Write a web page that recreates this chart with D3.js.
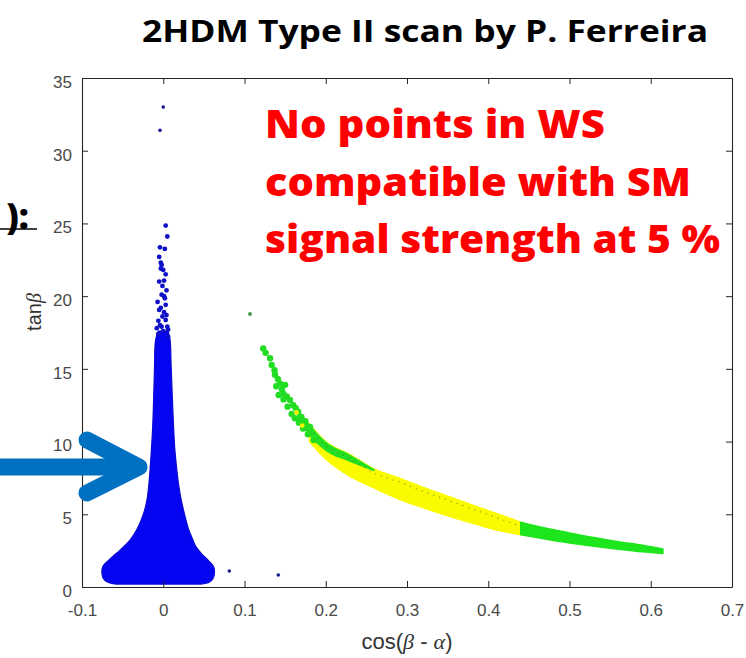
<!DOCTYPE html>
<html><head><meta charset="utf-8">
<script src="https://cdn.jsdelivr.net/npm/d3@7"></script>
<style>body{margin:0;background:#fff}svg{display:block}</style>
</head><body>
<script>
// ---------- data ----------
const xTicks = [-0.1, 0, 0.1, 0.2, 0.3, 0.4, 0.5, 0.6, 0.7];
const xTickLabels = ["-0.1", "0", "0.1", "0.2", "0.3", "0.4", "0.5", "0.6", "0.7"];
const yTicks = [0, 5, 10, 15, 20, 25, 30, 35];
const yTickLabels = ["0", "5", "10", "15", "20", "25", "30", "35"];

// blue (WS-allowed) cloud envelope: tanβ levels with left/right cos(β-α) edges
const blueTan   = [0.2, 0.35, 0.6, 1.0, 1.4, 1.8, 2.3, 2.8, 3.3, 4.0, 5.0, 6.0, 7.0, 8.0, 9.5, 11, 13, 15, 17, 17.6];
const blueLeft  = [-0.058, -0.069, -0.074, -0.0755, -0.0745, -0.068, -0.058, -0.048, -0.040, -0.032, -0.0245, -0.020, -0.0178, -0.0163, -0.0145, -0.013, -0.0118, -0.0108, -0.0094, -0.006];
const blueRight = [0.046, 0.057, 0.0615, 0.0630, 0.0620, 0.056, 0.047, 0.040, 0.036, 0.031, 0.0262, 0.022, 0.019, 0.0168, 0.0142, 0.0127, 0.0112, 0.0098, 0.0084, 0.006];

// individual blue points (cos(β-α), tanβ)
const blueCos = [0.000, -0.004, 0.003, 0.005, -0.004, 0.002, -0.005, -0.002, 0.000, -0.003, -0.005, 0.001, 0.004, -0.002, 0.002, -0.007, -0.003, -0.005, -0.001, 0.003, -0.004, 0.005, 0.000, -0.006, 0.006, 0.001, 0.003, -0.001, 0.003, -0.003, 0.001, -0.006, 0.004, -0.002, 0.006, -0.008, 0.0813, 0.1416];
const blueTanPts = [33.0, 31.4, 24.85, 24.1, 23.36, 23.25, 22.7, 22.15, 21.8, 21.9, 21.0, 21.07, 20.4, 20.1, 19.85, 19.6, 19.2, 19.05, 18.6, 18.36, 18.0, 17.9, 17.6, 17.4, 17.2, 18.9, 19.4, 20.7, 21.5, 22.3, 20.0, 18.3, 18.7, 17.9, 17.7, 17.8, 1.1, 0.83];

// green / yellow band edges
const bandCos   = [0.165, 0.18, 0.20, 0.23, 0.26, 0.29, 0.32, 0.35, 0.38, 0.41, 0.44, 0.47, 0.50, 0.53, 0.56, 0.59, 0.615];
const bandUpper = [12.3, 11.2, 10.0, 9.1, 8.1, 7.5, 6.85, 6.25, 5.65, 5.05, 4.45, 4.05, 3.72, 3.4, 3.12, 2.87, 2.62];
const bandLower = [11.3, 10.0, 8.8, 7.6, 6.8, 6.05, 5.45, 4.9, 4.4, 3.92, 3.6, 3.3, 3.03, 2.8, 2.6, 2.42, 2.3];
const yellowFrom = 0.18, yellowTo = 0.435;

// green strip along the top of the band's left part
const gStripCos   = [0.165, 0.18, 0.20, 0.23, 0.26];
const gStripUpper = [12.3, 11.2, 10.0, 9.1, 8.1];
const gStripLower = [11.5, 10.4, 9.35, 8.6, 7.95];

// sparse green points at the top end of the band
const greenCos = [0.1068, 0.1231, 0.126, 0.1314, 0.1335, 0.137, 0.1375, 0.141, 0.1437, 0.146, 0.1478, 0.150, 0.152, 0.156, 0.160, 0.163, 0.166, 0.170, 0.175, 0.1806,
                  0.139, 0.142, 0.148, 0.153, 0.158, 0.162, 0.167, 0.172, 0.178, 0.185];
const greenTan = [18.78, 16.4, 16.1, 15.73, 15.27, 14.9, 14.6, 14.3, 14.0, 13.6, 13.3, 13.9, 13.1, 12.86, 12.5, 12.3, 12.06, 11.7, 11.4, 11.0,
                  13.8, 13.2, 12.9, 12.4, 11.9, 11.6, 11.3, 10.9, 10.5, 10.1];
const yellowDotCos = [0.164, 0.171];
const yellowDotTan = [12.0, 11.1];

// ---------- drawing ----------
const W = 746, H = 658;
const svg = d3.select("body").append("svg").attr("width", W).attr("height", H);
const x = d3.scaleLinear().domain([-0.1, 0.7]).range([82, 732]);
const y = d3.scaleLinear().domain([0, 35]).range([587, 78]);

svg.append("rect").attr("width", W).attr("height", H).attr("fill", "#fff");

// band: yellow part
const bandIdx = d3.range(bandCos.length);
const bandArea = d3.area()
  .x(i => x(bandCos[i])).y0(i => y(bandLower[i])).y1(i => y(bandUpper[i]))
  .curve(d3.curveMonotoneX);
const yellowIdx = bandIdx.filter(i => bandCos[i] >= yellowFrom && bandCos[i] <= yellowTo + 0.01);
const greenIdx = bandIdx.filter(i => bandCos[i] >= yellowTo - 0.01);
svg.append("path").attr("d", bandArea(yellowIdx)).attr("fill", "#fbfb00")
  .attr("stroke", "#fbfb00").attr("stroke-width", 1.5);
svg.append("path").attr("d", bandArea(greenIdx)).attr("fill", "#1ee61e")
  .attr("stroke", "#1ee61e").attr("stroke-width", 1.5).attr("stroke-linejoin", "round");
// green strip
const gIdx = d3.range(gStripCos.length);
svg.append("path").attr("d", d3.area()
  .x(i => x(gStripCos[i])).y0(i => y(gStripLower[i])).y1(i => y(gStripUpper[i]))
  .curve(d3.curveMonotoneX)(gIdx)).attr("fill", "#22e022");
// dark specks inside yellow band
svg.append("path").attr("d", d3.line()
  .x(i => x(bandCos[i])).y(i => y(bandUpper[i]) + 4)
  .curve(d3.curveMonotoneX)(yellowIdx))
  .attr("fill", "none").attr("stroke", "#4a8a10").attr("stroke-width", 1.2)
  .attr("stroke-dasharray", "1.2,5").attr("opacity", 0.7);
// green sparse points
svg.append("g").selectAll("circle").data(d3.range(greenCos.length)).join("circle")
  .attr("cx", i => x(greenCos[i])).attr("cy", i => y(greenTan[i]))
  .attr("r", (d, i) => i === 0 ? 2 : 3.2).attr("fill", (d, i) => i === 0 ? "#4a9a4a" : "#22dd22");
svg.append("g").selectAll("circle").data(d3.range(yellowDotCos.length)).join("circle")
  .attr("cx", i => x(yellowDotCos[i])).attr("cy", i => y(yellowDotTan[i]))
  .attr("r", 2.4).attr("fill", "#f0f000");

// blue cloud
const bIdx = d3.range(blueTan.length);
svg.append("path").attr("d", d3.area()
  .y(i => y(blueTan[i])).x0(i => x(blueLeft[i])).x1(i => x(blueRight[i]))
  .curve(d3.curveCatmullRom)(bIdx))
  .attr("fill", "#0505f2").attr("stroke", "#0a0ad0").attr("stroke-width", 1.2);
const nB = blueCos.length;
svg.append("g").selectAll("circle").data(d3.range(nB)).join("circle")
  .attr("cx", i => x(blueCos[i])).attr("cy", i => y(blueTanPts[i]))
  .attr("r", i => (i < 2 || i >= nB - 2) ? 1.8 : 2.4)
  .attr("fill", i => (i < 2 || i >= nB - 2) ? "#1c1c8c" : "#1010c8");

// axes (MATLAB style, inward ticks, boxed)
const tickFont = g => g.selectAll("text").attr("font-family", "Liberation Sans, Arial, sans-serif")
  .attr("font-size", 17).attr("fill", "#4a4a4a");
const styleAxis = g => { g.select(".domain").attr("stroke", "#262626").attr("stroke-width", 1.1);
  g.selectAll(".tick line").attr("stroke", "#262626"); };
svg.append("g").attr("transform", "translate(0,587)")
  .call(d3.axisBottom(x).tickValues(xTicks).tickFormat((d, i) => xTickLabels[i])
    .tickSizeInner(-6).tickSizeOuter(0).tickPadding(17))
  .call(tickFont).call(styleAxis);
svg.append("g").attr("transform", "translate(82,0)")
  .call(d3.axisLeft(y).tickValues(yTicks).tickFormat((d, i) => yTickLabels[i])
    .tickSizeInner(-6).tickSizeOuter(0).tickPadding(10))
  .call(tickFont).call(styleAxis)
  .selectAll("text").attr("dy", "0.55em");
svg.append("g").attr("transform", "translate(0,78)")
  .call(d3.axisTop(x).tickValues(xTicks).tickFormat("").tickSizeInner(-6).tickSizeOuter(0))
  .call(styleAxis);
svg.append("g").attr("transform", "translate(732,0)")
  .call(d3.axisRight(y).tickValues(yTicks).tickFormat("").tickSizeInner(-6).tickSizeOuter(0))
  .call(styleAxis);

// axis labels
const xl = svg.append("text").attr("x", 407).attr("y", 649).attr("text-anchor", "middle")
  .attr("font-family", "Liberation Sans, Arial, sans-serif").attr("font-size", 22).attr("fill", "#333");
xl.append("tspan").text("cos(");
xl.append("tspan").text("β").attr("font-family", "Liberation Serif, serif").attr("font-style", "italic");
xl.append("tspan").text(" - ");
xl.append("tspan").text("α").attr("font-family", "Liberation Serif, serif").attr("font-style", "italic");
xl.append("tspan").text(")");
const yl = svg.append("text").attr("transform", "translate(41,312) rotate(-90)").attr("text-anchor", "middle")
  .attr("font-family", "Liberation Sans, Arial, sans-serif").attr("font-size", 20).attr("fill", "#333");
yl.append("tspan").text("tan");
yl.append("tspan").text("β").attr("font-family", "Liberation Serif, serif").attr("font-style", "italic");

// title
svg.append("text").attr("x", 142).attr("y", 42).text("2HDM Type II scan by P. Ferreira")
  .attr("font-family", "Open Sans, Noto Sans, sans-serif").attr("font-weight", 700)
  .attr("font-size", 31).attr("fill", "#000")
  .attr("textLength", 566).attr("lengthAdjust", "spacingAndGlyphs");

// red annotation
const redLines = ["No points in WS", "compatible with SM", "signal strength at 5 %"];
const redWidths = [340, 426, 455];
const redBase = [138, 196, 253];
svg.append("g").selectAll("text").data(redLines).join("text")
  .attr("x", 265).attr("y", (d, i) => redBase[i]).text(d => d)
  .attr("font-family", "Open Sans, Noto Sans, sans-serif").attr("font-weight", 800)
  .attr("font-size", 38).attr("fill", "#ff0000")
  .attr("textLength", (d, i) => redWidths[i]).attr("lengthAdjust", "spacingAndGlyphs");

// cut-off fragment on the left
svg.append("text").attr("x", 29).attr("y", 229).attr("text-anchor", "end").text("):")
  .attr("font-family", "Open Sans, Noto Sans, sans-serif").attr("font-weight", 800)
  .attr("font-size", 35).attr("fill", "#000");
svg.append("line").attr("x1", 0).attr("x2", 37).attr("y1", 229).attr("y2", 229)
  .attr("stroke", "#000").attr("stroke-width", 1.5);

// arrow
const arrow = svg.append("g").attr("fill", "none").attr("stroke", "#0070c0")
  .attr("stroke-width", 17).attr("stroke-linecap", "round").attr("stroke-linejoin", "round");
arrow.append("path").attr("d", "M-20,467 L136,467").attr("stroke-linecap", "butt");
arrow.append("path").attr("d", "M87,440 L139,467 L87,493");
</script>
</body></html>
